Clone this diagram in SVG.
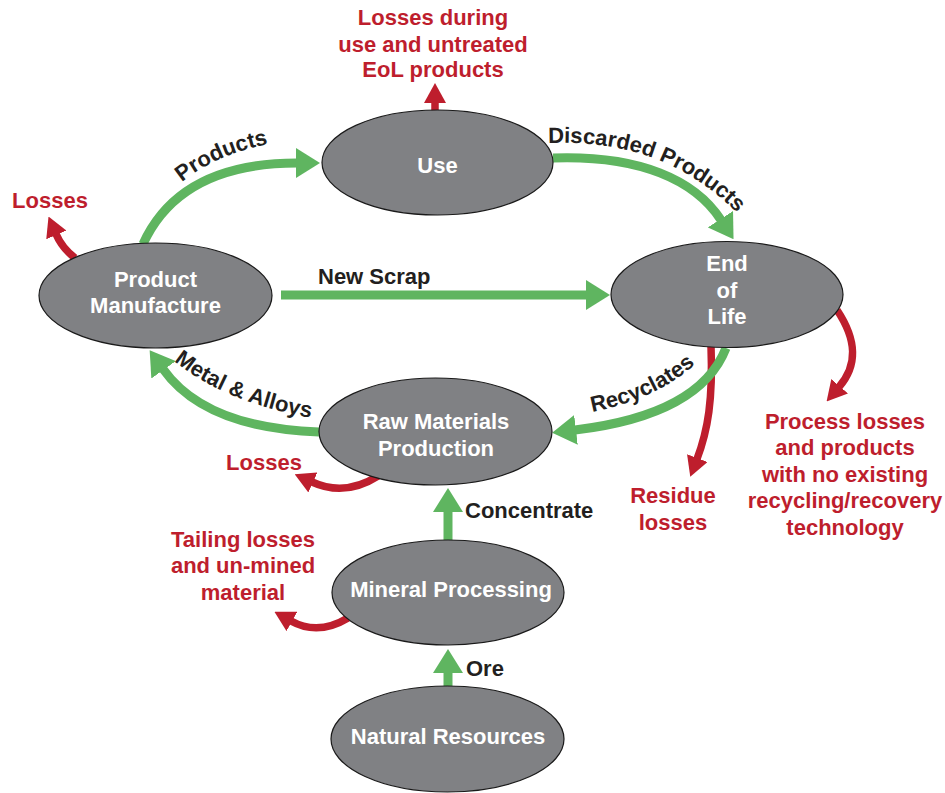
<svg xmlns="http://www.w3.org/2000/svg" width="945" height="793" viewBox="0 0 945 793">
<style>
.node ellipse{fill:#808184;stroke:#1a1a1a;stroke-width:1.2}
.nt{font-family:"Liberation Sans",Arial,sans-serif;font-weight:bold;font-size:22px;fill:#ffffff;text-anchor:middle}
.lb{font-family:"Liberation Sans",Arial,sans-serif;font-weight:bold;font-size:22px;fill:#231f20}
.rt{font-family:"Liberation Sans",Arial,sans-serif;font-weight:bold;font-size:22px;fill:#be1e2d;text-anchor:middle}
.g{fill:none;stroke:#5fb560;stroke-width:9;marker-end:url(#ga)}
.r{fill:none;stroke:#be1e2d;stroke-width:7.5;marker-end:url(#ra)}
</style>
<defs>
<marker id="ga" markerUnits="userSpaceOnUse" markerWidth="24" markerHeight="30" refX="1" refY="15" orient="auto"><path d="M0,0 L24,15 L0,30 z" fill="#5fb560"/></marker>
<marker id="ra" markerUnits="userSpaceOnUse" markerWidth="20" markerHeight="22" refX="1" refY="11" orient="auto"><path d="M0,0 L20,11 L0,22 z" fill="#be1e2d"/></marker>
<path id="tpProducts" d="M182,182 Q 220,151 285,141"/>
<path id="tpDiscarded" d="M548,143 C 630,140 692,165 742,218"/>
<path id="tpMetal" d="M174,361 Q 228,405 324,420"/>
<path id="tpRecyc" d="M592,412 Q 664,398 706,354"/>
</defs>

<g id="connectors">
<path class="r" d="M435,111 L435,102"/>
<path class="r" d="M75,258 Q 62,248 56,234"/>
<path class="r" d="M378,476 Q 345,497 312,482"/>
<path class="r" d="M348,618 Q 318,636 291,621"/>
<path class="r" d="M711,346 C 713,400 708,430 697,459"/>
<path class="r" d="M837,310 C 857,340 858,365 839,387"/>
<path class="g" d="M143,244 Q 180,163 297,163"/>
<path class="g" d="M553,158 C 640,155 695,180 721,220"/>
<path class="g" d="M281,295 L587,295"/>
<path class="g" d="M726,348 Q 700,415 575,430"/>
<path class="g" d="M319,432 Q 205,428 163,369"/>
<path class="g" d="M448,540 L448,511"/>
<path class="g" d="M448,686 L448,672"/>
</g>

<g id="connector-labels">
<text class="lb"><textPath href="#tpProducts">Products</textPath></text>
<text class="lb"><textPath href="#tpDiscarded">Discarded Products</textPath></text>
<text class="lb" x="318" y="284">New Scrap</text>
<text class="lb"><textPath href="#tpMetal">Metal &amp; Alloys</textPath></text>
<text class="lb"><textPath href="#tpRecyc">Recyclates</textPath></text>
<text class="lb" x="465" y="518">Concentrate</text>
<text class="lb" x="466" y="676">Ore</text>
</g>

<g id="loss-labels">
<text class="rt" x="433" y="25">Losses during</text>
<text class="rt" x="433" y="51.5">use and untreated</text>
<text class="rt" x="433" y="77">EoL products</text>
<text class="rt" x="50" y="208">Losses</text>
<text class="rt" x="264" y="470">Losses</text>
<text class="rt" x="243" y="547">Tailing losses</text>
<text class="rt" x="243" y="573">and un-mined</text>
<text class="rt" x="243" y="600">material</text>
<text class="rt" x="673" y="503">Residue</text>
<text class="rt" x="673" y="530">losses</text>
<text class="rt" x="845" y="429">Process losses</text>
<text class="rt" x="845" y="455">and products</text>
<text class="rt" x="845" y="482">with no existing</text>
<text class="rt" x="845" y="508">recycling/recovery</text>
<text class="rt" x="845" y="535">technology</text>
</g>

<g id="use" class="node"><ellipse cx="437.5" cy="162.5" rx="115.5" ry="52.5"/><text class="nt" x="437.5" y="173">Use</text></g>
<g id="product-manufacture" class="node"><ellipse cx="155.5" cy="295.5" rx="116.5" ry="52.5"/><text class="nt" x="155.5" y="287">Product</text><text class="nt" x="155.5" y="313">Manufacture</text></g>
<g id="end-of-life" class="node"><ellipse cx="727" cy="294.5" rx="116" ry="53"/><text class="nt" x="727" y="271">End</text><text class="nt" x="727" y="298">of</text><text class="nt" x="727" y="324">Life</text></g>
<g id="raw-materials" class="node"><ellipse cx="435.5" cy="431.5" rx="116.5" ry="53.5"/><text class="nt" x="436" y="429">Raw Materials</text><text class="nt" x="436" y="456">Production</text></g>
<g id="mineral-processing" class="node"><ellipse cx="448" cy="592.5" rx="116" ry="52.5"/><text class="nt" x="451" y="597">Mineral Processing</text></g>
<g id="natural-resources" class="node"><ellipse cx="447.5" cy="739" rx="116.5" ry="53"/><text class="nt" x="448" y="744">Natural Resources</text></g>
</svg>
